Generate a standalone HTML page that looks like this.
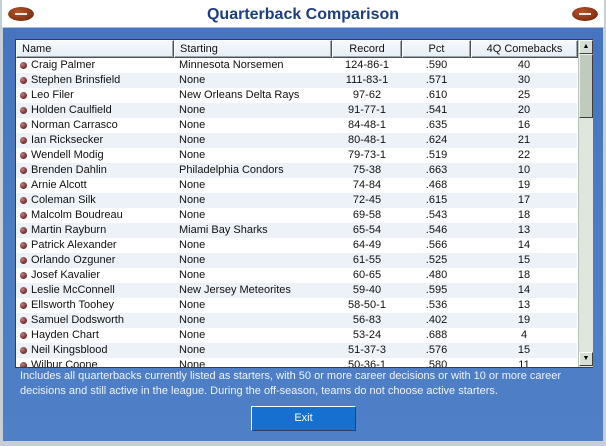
<!DOCTYPE html>
<html><head><meta charset="utf-8">
<style>
*{margin:0;padding:0;box-sizing:border-box}
html,body{width:606px;height:446px;overflow:hidden;background:#c9d2da;font-family:"Liberation Sans",Arial,sans-serif}
#win{position:absolute;left:0;top:0;width:606px;height:446px;background:#c6ced6}
#titlebar{position:absolute;left:2px;top:0;width:602px;height:27px;background:#fff}
#title{position:absolute;left:0;top:6px;width:606px;text-align:center;font-weight:bold;font-size:16px;color:#1d3f7e;letter-spacing:0px}
.ball{position:absolute;top:7px;width:26px;height:14px;border-radius:50% / 50%;background:radial-gradient(ellipse at 40% 35%,#b5542a 0%,#8a3515 60%,#5a200a 100%);clip-path:ellipse(13px 7px at 50% 50%)}
.ball:after{content:"";position:absolute;left:7px;top:6px;width:12px;height:2px;background:#f2e6dc}
#panel{position:absolute;left:3px;top:27px;width:600px;height:414px;background:linear-gradient(180deg,#4674c0 0%,#4b7bc5 40%,#4f7fc6 100%);border-top:1px solid #a9bedf}
#tbl{position:absolute;left:15px;top:39px;width:578px;height:329px;background:#fff;border:1px solid #3c3c3c}
.hd{position:absolute;top:0;height:18px;background:linear-gradient(#f6f9fc,#e6eef6);border:1px solid #505050;border-top-color:#fff;border-left-color:#fff;box-shadow:inset -1px -1px 0 #9aa6b0;font-size:11px;line-height:16px;color:#111}
#rows{position:absolute;left:0;top:18px;width:561px;height:309px;overflow:hidden}
.r{position:absolute;left:0;width:561px;height:15px;font-size:11px;line-height:15px;color:#111;white-space:nowrap}
.r.alt{background:#edf2f9}
.r span{position:absolute;top:0}
.b{position:absolute;left:4px;top:4px;width:7px;height:7px;border-radius:50%;background:radial-gradient(circle at 35% 35%,#c08080,#7a3434 60%,#5a2020)}
.c1{left:15px}.c2{left:163px}
.c3{left:316px;width:70px;text-align:center}
.c4{left:386px;width:69px;text-align:center}
.c5{left:455px;width:106px;text-align:center}
#sb{position:absolute;left:562px;top:0;width:15px;height:327px;background:#dfe6dd;border-left:1px solid #b8c2b6}
.arr{position:absolute;left:0;width:14px;height:14px;background:#d6dfd4;border:1px solid #fff;border-right-color:#404040;border-bottom-color:#404040;font-size:7px;line-height:12px;text-align:center;color:#000}
#thumb{position:absolute;left:0;top:14px;width:14px;height:64px;background:#bfcbbd;border:1px solid #eef2ee;border-right-color:#3c3c3c;border-bottom-color:#3c3c3c}
#foot{position:absolute;left:20px;top:369px;font-size:11px;line-height:15px;color:#eef3fb;white-space:nowrap}
#exit{position:absolute;left:251px;top:406px;width:105px;height:25px;background:#1570cf;border:1px solid #fff;border-right-color:#2a3f6a;border-bottom-color:#2a3f6a;color:#fff;font-size:11px;line-height:22px;text-align:center}
#bottom{position:absolute;left:0;top:441px;width:606px;height:5px;background:#c6ced6}
</style></head><body>
<div id="win">
<div id="titlebar"></div>
<div id="title">Quarterback Comparison</div>
<div class="ball" style="left:8px"></div>
<div class="ball" style="left:572px"></div>
<div id="panel"></div>
<div id="tbl">
  <div class="hd" style="left:0;width:158px;padding-left:5px">Name</div>
  <div class="hd" style="left:158px;width:158px;padding-left:5px">Starting</div>
  <div class="hd" style="left:316px;width:70px;text-align:center">Record</div>
  <div class="hd" style="left:386px;width:69px;text-align:center">Pct</div>
  <div class="hd" style="left:455px;width:107px;text-align:center">4Q Comebacks</div>
  <div id="rows">
    <div class="r" style="top:0"><i class="b"></i><span class="c1">Craig Palmer</span><span class="c2">Minnesota Norsemen</span><span class="c3">124-86-1</span><span class="c4">.590</span><span class="c5">40</span></div>
    <div class="r alt" style="top:15px"><i class="b"></i><span class="c1">Stephen Brinsfield</span><span class="c2">None</span><span class="c3">111-83-1</span><span class="c4">.571</span><span class="c5">30</span></div>
    <div class="r" style="top:30px"><i class="b"></i><span class="c1">Leo Filer</span><span class="c2">New Orleans Delta Rays</span><span class="c3">97-62</span><span class="c4">.610</span><span class="c5">25</span></div>
    <div class="r alt" style="top:45px"><i class="b"></i><span class="c1">Holden Caulfield</span><span class="c2">None</span><span class="c3">91-77-1</span><span class="c4">.541</span><span class="c5">20</span></div>
    <div class="r" style="top:60px"><i class="b"></i><span class="c1">Norman Carrasco</span><span class="c2">None</span><span class="c3">84-48-1</span><span class="c4">.635</span><span class="c5">16</span></div>
    <div class="r alt" style="top:75px"><i class="b"></i><span class="c1">Ian Ricksecker</span><span class="c2">None</span><span class="c3">80-48-1</span><span class="c4">.624</span><span class="c5">21</span></div>
    <div class="r" style="top:90px"><i class="b"></i><span class="c1">Wendell Modig</span><span class="c2">None</span><span class="c3">79-73-1</span><span class="c4">.519</span><span class="c5">22</span></div>
    <div class="r alt" style="top:105px"><i class="b"></i><span class="c1">Brenden Dahlin</span><span class="c2">Philadelphia Condors</span><span class="c3">75-38</span><span class="c4">.663</span><span class="c5">10</span></div>
    <div class="r" style="top:120px"><i class="b"></i><span class="c1">Arnie Alcott</span><span class="c2">None</span><span class="c3">74-84</span><span class="c4">.468</span><span class="c5">19</span></div>
    <div class="r alt" style="top:135px"><i class="b"></i><span class="c1">Coleman Silk</span><span class="c2">None</span><span class="c3">72-45</span><span class="c4">.615</span><span class="c5">17</span></div>
    <div class="r" style="top:150px"><i class="b"></i><span class="c1">Malcolm Boudreau</span><span class="c2">None</span><span class="c3">69-58</span><span class="c4">.543</span><span class="c5">18</span></div>
    <div class="r alt" style="top:165px"><i class="b"></i><span class="c1">Martin Rayburn</span><span class="c2">Miami Bay Sharks</span><span class="c3">65-54</span><span class="c4">.546</span><span class="c5">13</span></div>
    <div class="r" style="top:180px"><i class="b"></i><span class="c1">Patrick Alexander</span><span class="c2">None</span><span class="c3">64-49</span><span class="c4">.566</span><span class="c5">14</span></div>
    <div class="r alt" style="top:195px"><i class="b"></i><span class="c1">Orlando Ozguner</span><span class="c2">None</span><span class="c3">61-55</span><span class="c4">.525</span><span class="c5">15</span></div>
    <div class="r" style="top:210px"><i class="b"></i><span class="c1">Josef Kavalier</span><span class="c2">None</span><span class="c3">60-65</span><span class="c4">.480</span><span class="c5">18</span></div>
    <div class="r alt" style="top:225px"><i class="b"></i><span class="c1">Leslie McConnell</span><span class="c2">New Jersey Meteorites</span><span class="c3">59-40</span><span class="c4">.595</span><span class="c5">14</span></div>
    <div class="r" style="top:240px"><i class="b"></i><span class="c1">Ellsworth Toohey</span><span class="c2">None</span><span class="c3">58-50-1</span><span class="c4">.536</span><span class="c5">13</span></div>
    <div class="r alt" style="top:255px"><i class="b"></i><span class="c1">Samuel Dodsworth</span><span class="c2">None</span><span class="c3">56-83</span><span class="c4">.402</span><span class="c5">19</span></div>
    <div class="r" style="top:270px"><i class="b"></i><span class="c1">Hayden Chart</span><span class="c2">None</span><span class="c3">53-24</span><span class="c4">.688</span><span class="c5">4</span></div>
    <div class="r alt" style="top:285px"><i class="b"></i><span class="c1">Neil Kingsblood</span><span class="c2">None</span><span class="c3">51-37-3</span><span class="c4">.576</span><span class="c5">15</span></div>
    <div class="r" style="top:300px"><i class="b"></i><span class="c1">Wilbur Coone</span><span class="c2">None</span><span class="c3">50-36-1</span><span class="c4">.580</span><span class="c5">11</span></div>
  </div>
  <div id="sb">
    <div class="arr" style="top:0">&#9650;</div>
    <div id="thumb"></div>
    <div class="arr" style="top:312px">&#9660;</div>
  </div>
</div>
<div id="foot">Includes all quarterbacks currently listed as starters, with 50 or more career decisions or with 10 or more career<br>decisions and still active in the league. During the off-season, teams do not choose active starters.</div>
<div id="exit">Exit</div>
<div id="bottom"></div>
</div>
</body></html>
